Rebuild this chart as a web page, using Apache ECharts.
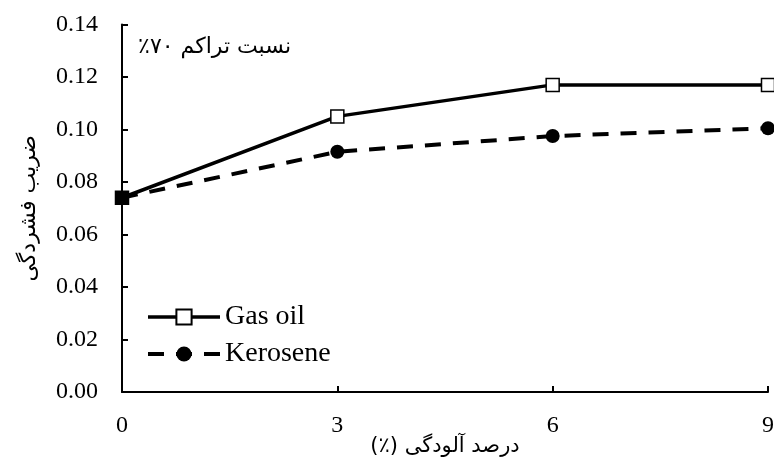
<!DOCTYPE html>
<html>
<head>
<meta charset="utf-8">
<script src="https://cdn.jsdelivr.net/npm/echarts@6/dist/echarts.min.js"></script>
<style>html,body{margin:0;padding:0;background:#fff}#c{width:774px;height:460px}</style>
</head>
<body>
<div id="c"></div>
<script>
const xValues = [0, 3, 6, 9];
const gasOil = [0.074, 0.105, 0.117, 0.117];
const kerosene = [0.074, 0.0915, 0.0975, 0.1005];
const seriesNames = ['Gas oil', 'Kerosene'];
const xAxisName = 'درصد آلودگی (٪)';
const yAxisName = 'ضریب فشردگی';
const noteText = 'نسبت تراکم ۷۰٪';

const RLE = '\u202B', PDF = '\u202C';
const rtl = s => RLE + s + PDF;

const serif = "'Liberation Serif', 'Times New Roman', serif";
const persian = "'DejaVu Sans', sans-serif";

const chart = echarts.init(document.getElementById('c'), null, {renderer: 'canvas'});
chart.setOption({
  backgroundColor: '#fff',
  animation: false,
  grid: {left: 122, right: 6, top: 24.5, bottom: 68, containLabel: false, outerBoundsMode: 'none'},
  xAxis: {
    type: 'value', min: 0, max: 9, interval: 3,
    name: rtl(xAxisName), nameLocation: 'middle', nameGap: 44, nameMoveOverlap: false,
    nameTextStyle: {fontFamily: persian, fontSize: 21, color: '#000'},
    axisLine: {show: true, lineStyle: {color: '#000', width: 2}},
    axisTick: {show: true, inside: true, length: 6, lineStyle: {color: '#000', width: 2}},
    axisLabel: {fontFamily: serif, fontSize: 24, color: '#000', margin: 22},
    splitLine: {show: false}
  },
  yAxis: {
    type: 'value', min: 0, max: 0.14, interval: 0.02,
    name: rtl(yAxisName), nameLocation: 'middle', nameGap: 82, nameRotate: 90, nameMoveOverlap: false,
    nameTextStyle: {fontFamily: persian, fontSize: 22, color: '#000'},
    axisLine: {show: true, lineStyle: {color: '#000', width: 2}},
    axisTick: {show: true, inside: true, length: 6, lineStyle: {color: '#000', width: 2}},
    axisLabel: {fontFamily: serif, fontSize: 24, color: '#000', margin: 24,
      formatter: v => v.toFixed(2)},
    splitLine: {show: false}
  },
  legend: {
    orient: 'vertical', left: 146, top: 303, padding: 0,
    itemWidth: 72, itemHeight: 19, itemGap: 9,
    textStyle: {fontFamily: serif, fontSize: 28, color: '#000'},
    data: [
      {name: seriesNames[0], lineStyle: {width: 3.5}},
      {name: seriesNames[1], lineStyle: {width: 4}}
    ]
  },
  graphic: [{
    type: 'text', right: 774 - 291, top: 36,
    style: {text: rtl(noteText), font: "22px 'DejaVu Sans', sans-serif", fill: '#000'}
  }],
  series: [{
    name: seriesNames[0], type: 'line', z: 4,
    data: xValues.map((x, i) => i === 0
      ? {value: [x, gasOil[i]], itemStyle: {color: '#000'}}
      : [x, gasOil[i]]),
    symbol: 'rect', symbolSize: 13,
    lineStyle: {color: '#000', width: 3.5},
    itemStyle: {color: '#fff', borderColor: '#000', borderWidth: 1.5}
  }, {
    name: seriesNames[1], type: 'line', z: 3,
    data: xValues.map((x, i) => [x, kerosene[i]]),
    symbol: 'circle', symbolSize: 14,
    lineStyle: {color: '#000', width: 4, type: [16, 12]},
    itemStyle: {color: '#000', borderColor: '#000', borderWidth: 0}
  }]
});
</script>
</body>
</html>
